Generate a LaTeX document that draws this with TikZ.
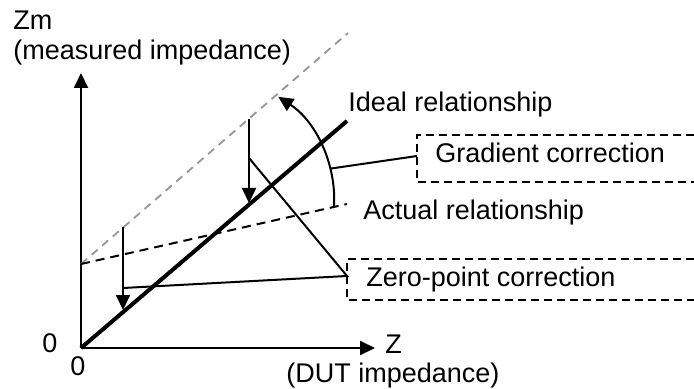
\documentclass[tikz,border=0pt]{standalone}
\usepackage{fontspec}
\setmainfont{Liberation Sans}
\usetikzlibrary{arrows.meta}
\begin{document}
\begin{tikzpicture}[x=0.5pt,y=-0.5pt,
  txt/.style={anchor=base west,inner sep=0pt,font=\fontsize{13.5}{15}\selectfont},
  thinln/.style={line width=1pt},
  thickln/.style={line width=2pt},
  arr/.style={line width=1pt,-{Triangle[length=7.5pt,width=7pt]}},
  graydash/.style={line width=0.9pt,draw={rgb,255:red,150;green,150;blue,150},dash pattern=on 4pt off 3pt},
  blackdash/.style={line width=1pt,dash pattern=on 4.5pt off 3pt},
  boxdash/.style={line width=0.8pt,dash pattern=on 4pt off 2.5pt}]
\useasboundingbox (0,0) rectangle (694,389);
\clip (0,0) rectangle (694,389);
% key points
\coordinate (O) at (81,348);
\coordinate (Ytip) at (81,73);
\coordinate (Xtip) at (375,348);
\coordinate (I) at (81,264);
\coordinate (Gend) at (348,33);
\coordinate (Aend) at (347,204);
\coordinate (Iend) at (347,121);
\coordinate (D1top) at (249,119);
\coordinate (D1tip) at (249,203);
\coordinate (D2top) at (123,227);
\coordinate (D2tip) at (123,310);
\coordinate (ZP) at (347,276);
\coordinate (Z1) at (249,158);
\coordinate (Z2) at (123,288);
\coordinate (ArcS) at (334,207.5);
\coordinate (Garc) at (329.8,168.7);
\coordinate (GB) at (417,156);
% axes
\draw[arr] (O) -- (Ytip);
\draw[arr] (O) -- (Xtip);
% relationship lines
\draw[graydash] (I) -- (Gend);
\draw[blackdash] (I) -- (Aend);
\draw[thickln] (O) -- (Iend);
% correction arrows
\draw[arr] (D1top) -- (D1tip);
\draw[arr] (D2top) -- (D2tip);
\draw[arr] (ArcS) arc[start angle=-3.5,end angle=57,radius=61.5pt];
% callout lines
\draw[thinln] (Z1) -- (ZP) -- (Z2);
\draw[thinln] (Garc) -- (GB);
% callout boxes (open to the right)
\draw[boxdash] (720,135) -- (417,135) -- (417,182) -- (720,182);
\draw[boxdash] (720,259) -- (347,259) -- (347,300) -- (720,300);
% labels
\node[txt] (zm) at (13,29.3) {Zm};
\node[txt] (zmd) at (13,60) {(measured impedance)};
\node[txt] (ideal) at (348,111.7) {Ideal relationship};
\node[txt] (grad) at (435,163) {Gradient correction};
\node[txt] (act) at (363,220) {Actual relationship};
\node[txt] (zero) at (366,286) {Zero-point correction};
\node[txt] (z) at (385,353) {Z};
\node[txt] (zd) at (286,382) {(DUT impedance)};
\node[txt] (y0) at (42,352) {0};
\node[txt] (x0) at (70,375) {0};
\end{tikzpicture}
\end{document}
